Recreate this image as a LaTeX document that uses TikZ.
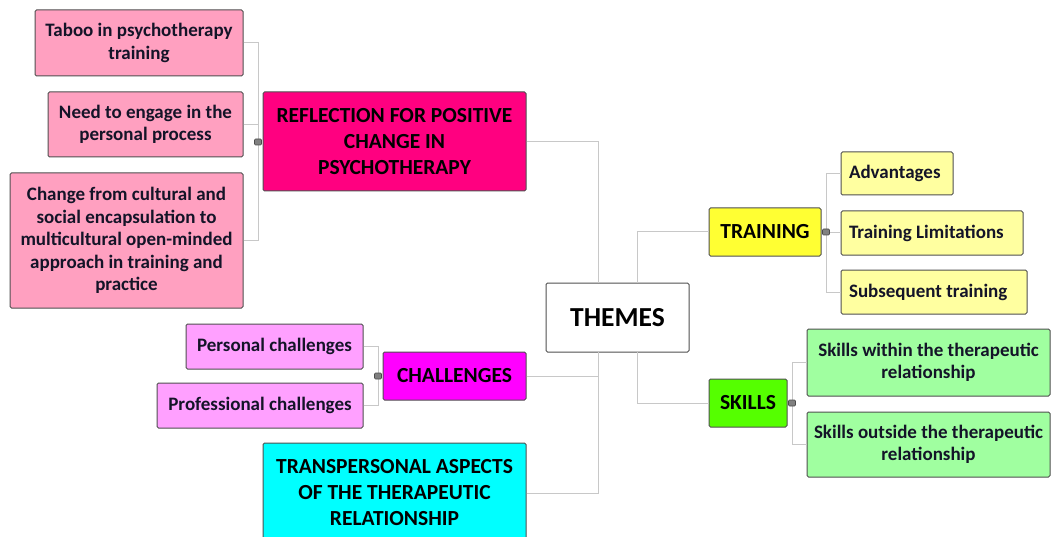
\documentclass[tikz,border=0pt]{standalone}
\usepackage{fontspec}
\setmainfont{Carlito}
\begin{document}
\definecolor{pinkL}{RGB}{255,160,192}
\definecolor{pinkD}{RGB}{255,0,128}
\definecolor{magD}{RGB}{255,0,255}
\definecolor{magL}{RGB}{255,160,255}
\definecolor{cyanD}{RGB}{0,255,255}
\definecolor{yelD}{RGB}{255,255,51}
\definecolor{yelL}{RGB}{255,255,160}
\definecolor{grnD}{RGB}{85,255,0}
\definecolor{grnL}{RGB}{160,255,160}
\definecolor{boxline}{RGB}{80,80,80}
\definecolor{linkgray}{RGB}{200,200,200}
\definecolor{txt}{RGB}{20,20,40}
\begin{tikzpicture}[x=1pt,y=1pt,
  box/.style={draw=boxline, line width=1pt, rounded corners=1.5pt, align=center,
    inner sep=0pt, text=txt, font=\bfseries\fontsize{19}{22.5}\selectfont},
  head/.style={box, text=black, font=\bfseries\fontsize{21.5}{26}\selectfont},
  link/.style={draw=linkgray, line width=1pt},
  marker/.style={draw=black!70, fill=black!50, line width=0.6pt,
    minimum width=7pt, minimum height=6pt, inner sep=0pt, rounded corners=1pt}]
\useasboundingbox (0,0) rectangle (1051,-537);
\clip (0,0) rectangle (1051,-537);

% central node and its junction points
\node[box, fill=white, minimum width=143pt, minimum height=69pt,
  font=\bfseries\fontsize{27.5}{32}\selectfont, text=black] (themes) at (617.5,-317.5) {THEMES};
\coordinate (tnL) at (598,-283);
\coordinate (tsL) at (598,-352);
\coordinate (tnR) at (637,-283);
\coordinate (tsR) at (637,-352);

% main branches
\node[head, fill=pinkD, minimum width=263pt, minimum height=99pt] (refl) at (394.5,-141.5)
  {REFLECTION FOR POSITIVE\\CHANGE IN\\PSYCHOTHERAPY};
\node[head, fill=magD, minimum width=143pt, minimum height=48pt] (chal) at (454.5,-376) {CHALLENGES};
\node[head, fill=cyanD, minimum width=263pt, minimum height=100pt] (trans) at (394.5,-493)
  {TRANSPERSONAL ASPECTS\\OF THE THERAPEUTIC\\RELATIONSHIP};
\node[head, fill=yelD, minimum width=112pt, minimum height=48pt] (training) at (765,-232) {TRAINING};
\node[head, fill=grnD, minimum width=78pt, minimum height=48pt] (skills) at (748,-403) {SKILLS};

% sub-topics
\node[box, fill=pinkL, minimum width=208pt, minimum height=66pt] (taboo) at (139,-43)
  {Taboo in psychotherapy\\training};
\node[box, fill=pinkL, minimum width=195pt, minimum height=65pt] (need) at (145.5,-124.5)
  {Need to engage in the\\personal process};
\node[box, fill=pinkL, minimum width=233pt, minimum height=135pt] (change) at (126.5,-240.5)
  {Change from cultural and\\social encapsulation to\\multicultural open-minded\\approach in training and\\practice};
\node[box, fill=magL, minimum width=177pt, minimum height=45pt] (pers) at (274.5,-346.5) {Personal challenges};
\node[box, fill=magL, minimum width=206pt, minimum height=45pt] (prof) at (260,-405.5) {Professional challenges};
\node[box, fill=yelL, minimum width=112pt, minimum height=43pt] (adv) at (897,-173.5)
  {\makebox[96pt][l]{Advantages}};
\node[box, fill=yelL, minimum width=182pt, minimum height=44pt] (tlim) at (932,-233)
  {\makebox[166pt][l]{Training Limitations}};
\node[box, fill=yelL, minimum width=186pt, minimum height=44pt] (subs) at (934,-292)
  {\makebox[170pt][l]{Subsequent training}};
\node[box, fill=grnL, minimum width=243pt, minimum height=67pt] (swithin) at (928.5,-362.5)
  {Skills within the therapeutic\\relationship};
\node[box, fill=grnL, minimum width=243pt, minimum height=65pt] (sout) at (928.5,-444.5)
  {Skills outside the therapeutic\\relationship};

% branch junctions beside each parent
\coordinate (jR) at (258,-142);
\coordinate (jC) at (378,-376);
\coordinate (jT) at (826,-232);
\coordinate (jS) at (792,-403);

% connectors to the central node
\draw[link] (refl.east) -| (tnL);
\draw[link] (chal.east) -| (tsL);
\draw[link] (trans.east) -| (tsL);
\draw[link] (training.west) -| (tnR);
\draw[link] (skills.west) -| (tsR);

% connectors to sub-topics
\draw[link] (taboo.east) -| (jR);
\draw[link] (need.east) -| (jR);
\draw[link] (change.east) -| (jR);
\draw[link] (pers.east) -| (jC);
\draw[link] (prof.east) -| (jC);
\draw[link] (adv.west) -| (jT);
\draw[link] (tlim.west) -| (jT);
\draw[link] (subs.west) -| (jT);
\draw[link] (swithin.west) -| (jS);
\draw[link] (sout.west) -| (jS);

% collapse markers
\node[marker] (kR) at (jR) {};
\node[marker] (kC) at (jC) {};
\node[marker] (kT) at (jT) {};
\node[marker] (kS) at (jS) {};
\end{tikzpicture}
\end{document}
